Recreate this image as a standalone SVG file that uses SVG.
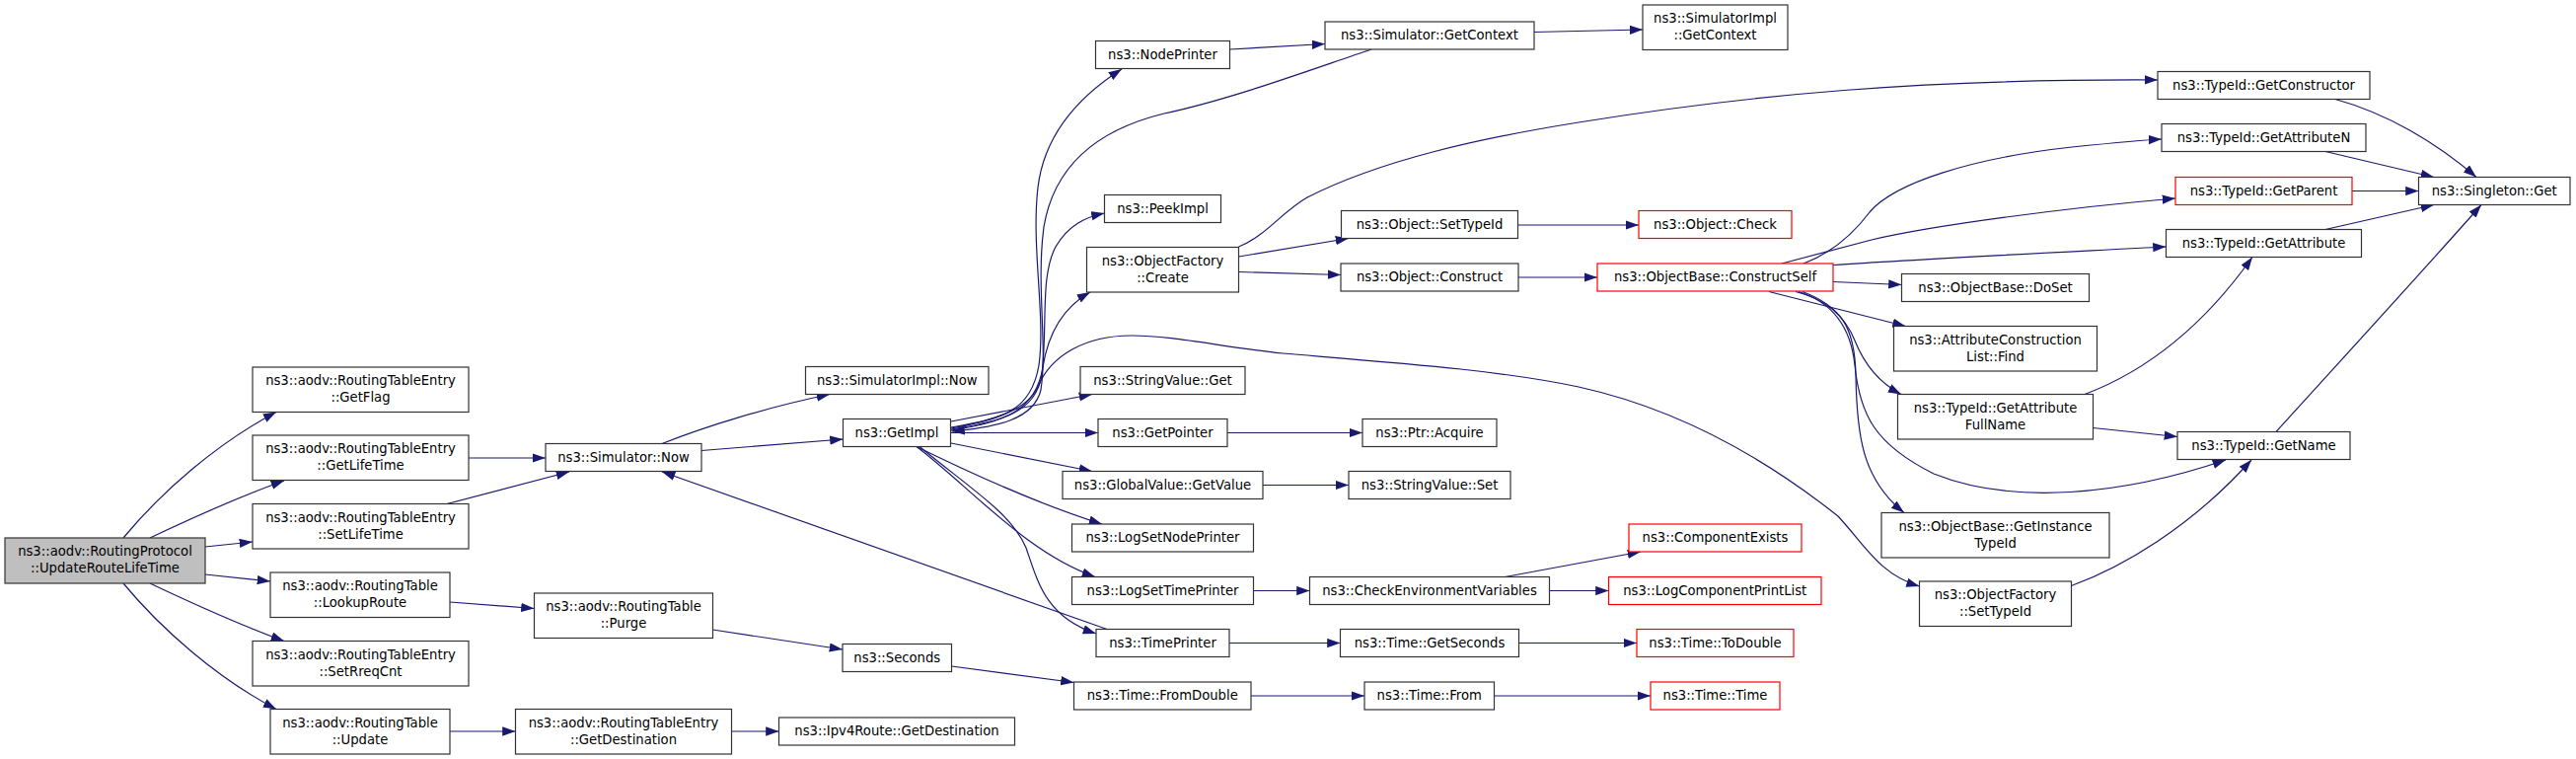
<svg xmlns="http://www.w3.org/2000/svg" width="2611" height="769" viewBox="0 0 2611 769">
<style>
.node rect{fill:#ffffff;stroke:#333333;stroke-width:1.2}
.node.red rect{stroke:#ff0000}
.node.root rect{fill:#bfbfbf}
.node text{font-family:"DejaVu Sans","Liberation Sans",sans-serif;font-size:13.2px;text-anchor:middle;fill:#000}
#connectors path{fill:none;stroke:#191970;stroke-width:1.2;marker-end:url(#a)}
</style>
<defs>
<marker id="a" markerUnits="userSpaceOnUse" markerWidth="14" markerHeight="10" viewBox="0 0 14 10" refX="13.3" refY="4.67" orient="auto"><path d="M0,0 L13.3,4.67 L0,9.33 z" fill="#191970" stroke="none"/></marker>
</defs>
<rect width="2611" height="769" fill="#ffffff"/>
<g id="connectors">
<path d="M125,545 C163,499 220,449 280,417.5"/>
<path d="M152,545 C190,527 240,504 288,487"/>
<path d="M208,554 L256,549"/>
<path d="M208,582 L274,589"/>
<path d="M152,591 C190,609 240,632 288,649.5"/>
<path d="M125,591 C163,637 220,687 280,718.5"/>
<path d="M475,464 L553,464"/>
<path d="M453,510.5 L577,478"/>
<path d="M456,610 L541.5,616.5"/>
<path d="M456,741 L522.5,741"/>
<path d="M722.5,638 L854,658"/>
<path d="M741.5,741 L789.5,741"/>
<path d="M671,449.5 C715,432 780,412 841,399.5"/>
<path d="M711,456.5 L854.5,445"/>
<path d="M1122,637.5 L671,478"/>
<path d="M964.5,675 L1088.5,691.5"/>
<path d="M964,427 L1107,399.5"/>
<path d="M964,438.5 L1113,438.5"/>
<path d="M964,449 L1107,477.5"/>
<path d="M929,452.5 C985,480 1050,510 1117,531"/>
<path d="M929,452.5 C985,495 1040,560 1110,584.5"/>
<path d="M932,452.5 C985,496 1025,520 1040,555 C1052,590 1060,625 1111,642"/>
<path d="M964,433 C1015,424 1045,418 1053,370 C1060,320 1045,250 1052,190 C1058,140 1090,100 1137,70"/>
<path d="M1390,50 C1330,70 1250,100 1180,115 C1110,132 1068,170 1058,230 C1050,290 1062,350 1055,395 C1048,425 1010,433 964.5,437"/>
<path d="M964,435 C1015,427 1050,418 1056,380 C1062,330 1054,280 1070,250 C1083,228 1100,220 1119.5,216"/>
<path d="M964,436 C1018,428 1050,416 1057,372 C1062,340 1075,313 1105,296"/>
<path d="M964,434 C1010,426 1042,414 1052,392 C1065,360 1100,340 1147,340 C1190,340 1240,352 1300,358 C1420,368 1520,375 1600,392 C1700,414 1790,465 1863,523 C1890,552 1905,582 1945.5,594"/>
<path d="M1255.5,250 C1282,240 1300,214 1325,200 C1400,162 1500,140 1600,124 C1780,95 1950,80 2187,81"/>
<path d="M1246.5,50 L1343,44.5"/>
<path d="M1255.5,260 L1367,241.5"/>
<path d="M1255.5,275.5 L1359,278.5"/>
<path d="M1554.5,32.5 L1665,30"/>
<path d="M1538,228 L1661,228"/>
<path d="M1539,281 L1619,281"/>
<path d="M1244,438.5 L1381,438.5"/>
<path d="M1280,491.5 L1367,491.5"/>
<path d="M1270.5,598.5 L1327.5,598.5"/>
<path d="M1246,651.5 L1358.5,651.5"/>
<path d="M1268,705 L1383,705"/>
<path d="M1525.5,584.5 L1663,559"/>
<path d="M1570.5,598.5 L1630.5,598.5"/>
<path d="M1539.5,651.5 L1659,651.5"/>
<path d="M1514.5,705 L1673,705"/>
<path d="M1828,267 C1860,255 1880,235 1895,215 C1920,185 2000,160 2100,149 C2140,145 2170,142 2191,141"/>
<path d="M1806,267 C1840,258 1870,250 1897,243 C1960,228 2100,210 2205,201"/>
<path d="M1858,268.5 C1950,262 2100,255 2195.5,250"/>
<path d="M1858,285.5 L1927.5,288.5"/>
<path d="M1793,295.5 L1931.5,330.5"/>
<path d="M1820,295.5 C1850,303 1870,320 1880,345 C1890,370 1905,388 1927,399.5"/>
<path d="M1823,295.5 C1857,306 1876,332 1880,370 C1885,420 1900,450 1960,480 C2040,512 2150,502 2256,466"/>
<path d="M1827,295.5 C1865,310 1880,330 1881,380 C1882,440 1887,485 1930,519.5"/>
<path d="M2367,100.5 C2420,115 2470,145 2510,179.5"/>
<path d="M2357,153.5 L2467,179.5"/>
<path d="M2384,193.5 L2451.5,193.5"/>
<path d="M2357,232.5 L2467,207.5"/>
<path d="M2307,437.5 C2350,390 2460,270 2515,207.5"/>
<path d="M2113,399.5 C2170,378 2230,335 2283,260.5"/>
<path d="M2121.5,433.5 L2207,442.5"/>
<path d="M2099.5,593.5 C2150,575 2220,535 2282,466"/>
</g>
<g id="n1" class="node root"><rect x="5" y="545" width="203" height="46"/><text x="106.5" y="563">ns3::aodv::RoutingProtocol</text><text x="106.5" y="580">::UpdateRouteLifeTime</text></g>
<g id="n2" class="node"><rect x="256" y="372" width="219" height="45.5"/><text x="365.5" y="390">ns3::aodv::RoutingTableEntry</text><text x="365.5" y="407">::GetFlag</text></g>
<g id="n3" class="node"><rect x="256" y="441" width="219" height="45.5"/><text x="365.5" y="459">ns3::aodv::RoutingTableEntry</text><text x="365.5" y="476">::GetLifeTime</text></g>
<g id="n4" class="node"><rect x="256" y="510.5" width="219" height="45.5"/><text x="365.5" y="528.5">ns3::aodv::RoutingTableEntry</text><text x="365.5" y="545.5">::SetLifeTime</text></g>
<g id="n5" class="node"><rect x="274" y="580" width="182" height="45.5"/><text x="365" y="598">ns3::aodv::RoutingTable</text><text x="365" y="615">::LookupRoute</text></g>
<g id="n6" class="node"><rect x="256" y="649.5" width="219" height="45.5"/><text x="365.5" y="667.5">ns3::aodv::RoutingTableEntry</text><text x="365.5" y="684.5">::SetRreqCnt</text></g>
<g id="n7" class="node"><rect x="274" y="718.5" width="182" height="45.5"/><text x="365" y="736.5">ns3::aodv::RoutingTable</text><text x="365" y="753.5">::Update</text></g>
<g id="n8" class="node"><rect x="553" y="449.5" width="158" height="28"/><text x="632" y="467.5">ns3::Simulator::Now</text></g>
<g id="n9" class="node"><rect x="541.5" y="601" width="181" height="45.5"/><text x="632" y="619">ns3::aodv::RoutingTable</text><text x="632" y="636">::Purge</text></g>
<g id="n10" class="node"><rect x="522.5" y="718.5" width="219" height="45.5"/><text x="632" y="736.5">ns3::aodv::RoutingTableEntry</text><text x="632" y="753.5">::GetDestination</text></g>
<g id="n11" class="node"><rect x="816.5" y="371.5" width="185.5" height="28"/><text x="909.25" y="389.5">ns3::SimulatorImpl::Now</text></g>
<g id="n12" class="node"><rect x="854.5" y="424.5" width="109" height="28"/><text x="909" y="442.5">ns3::GetImpl</text></g>
<g id="n13" class="node"><rect x="854" y="652.5" width="110.5" height="28"/><text x="909.25" y="670.5">ns3::Seconds</text></g>
<g id="n14" class="node"><rect x="789.5" y="727" width="239" height="28"/><text x="909" y="745">ns3::Ipv4Route::GetDestination</text></g>
<g id="n15" class="node"><rect x="1110.5" y="41.5" width="136" height="28"/><text x="1178.5" y="59.5">ns3::NodePrinter</text></g>
<g id="n16" class="node"><rect x="1119.5" y="197.5" width="118" height="28"/><text x="1178.5" y="215.5">ns3::PeekImpl</text></g>
<g id="n17" class="node"><rect x="1101.5" y="250.5" width="154" height="45.5"/><text x="1178.5" y="268.5">ns3::ObjectFactory</text><text x="1178.5" y="285.5">::Create</text></g>
<g id="n18" class="node"><rect x="1095" y="371.5" width="167" height="28"/><text x="1178.5" y="389.5">ns3::StringValue::Get</text></g>
<g id="n19" class="node"><rect x="1113" y="424.5" width="131" height="28"/><text x="1178.5" y="442.5">ns3::GetPointer</text></g>
<g id="n20" class="node"><rect x="1077" y="477.5" width="203" height="28"/><text x="1178.5" y="495.5">ns3::GlobalValue::GetValue</text></g>
<g id="n21" class="node"><rect x="1086.5" y="531" width="184" height="28"/><text x="1178.5" y="549">ns3::LogSetNodePrinter</text></g>
<g id="n22" class="node"><rect x="1086.5" y="584.5" width="184" height="28"/><text x="1178.5" y="602.5">ns3::LogSetTimePrinter</text></g>
<g id="n23" class="node"><rect x="1111" y="637.5" width="135" height="28"/><text x="1178.5" y="655.5">ns3::TimePrinter</text></g>
<g id="n24" class="node"><rect x="1088.5" y="691" width="179.5" height="28"/><text x="1178.25" y="709">ns3::Time::FromDouble</text></g>
<g id="n25" class="node"><rect x="1343" y="22" width="212" height="28"/><text x="1449" y="40">ns3::Simulator::GetContext</text></g>
<g id="n26" class="node"><rect x="1359.5" y="213.5" width="179" height="28"/><text x="1449" y="231.5">ns3::Object::SetTypeId</text></g>
<g id="n27" class="node"><rect x="1359" y="267" width="180" height="28"/><text x="1449" y="285">ns3::Object::Construct</text></g>
<g id="n28" class="node"><rect x="1381" y="424.5" width="136" height="28"/><text x="1449" y="442.5">ns3::Ptr::Acquire</text></g>
<g id="n29" class="node"><rect x="1367" y="477.5" width="164" height="28"/><text x="1449" y="495.5">ns3::StringValue::Set</text></g>
<g id="n30" class="node"><rect x="1327.5" y="584.5" width="243" height="28"/><text x="1449" y="602.5">ns3::CheckEnvironmentVariables</text></g>
<g id="n31" class="node"><rect x="1358.5" y="637.5" width="181" height="28"/><text x="1449" y="655.5">ns3::Time::GetSeconds</text></g>
<g id="n32" class="node"><rect x="1383" y="691" width="131.5" height="28"/><text x="1448.75" y="709">ns3::Time::From</text></g>
<g id="n33" class="node"><rect x="1665" y="5" width="147" height="45.5"/><text x="1738.5" y="23">ns3::SimulatorImpl</text><text x="1738.5" y="40">::GetContext</text></g>
<g id="n34" class="node red"><rect x="1661" y="213.5" width="155" height="28"/><text x="1738.5" y="231.5">ns3::Object::Check</text></g>
<g id="n35" class="node red"><rect x="1619" y="267" width="239" height="28"/><text x="1738.5" y="285">ns3::ObjectBase::ConstructSelf</text></g>
<g id="n36" class="node red"><rect x="1651" y="531" width="175" height="28"/><text x="1738.5" y="549">ns3::ComponentExists</text></g>
<g id="n37" class="node red"><rect x="1630.5" y="584.5" width="215.5" height="28"/><text x="1738.25" y="602.5">ns3::LogComponentPrintList</text></g>
<g id="n38" class="node red"><rect x="1659" y="637.5" width="159" height="28"/><text x="1738.5" y="655.5">ns3::Time::ToDouble</text></g>
<g id="n39" class="node red"><rect x="1673" y="691" width="131" height="28"/><text x="1738.5" y="709">ns3::Time::Time</text></g>
<g id="n40" class="node"><rect x="1927.5" y="277.5" width="190" height="28"/><text x="2022.5" y="295.5">ns3::ObjectBase::DoSet</text></g>
<g id="n41" class="node"><rect x="1919.5" y="330.5" width="206" height="45.5"/><text x="2022.5" y="348.5">ns3::AttributeConstruction</text><text x="2022.5" y="365.5">List::Find</text></g>
<g id="n42" class="node"><rect x="1923.5" y="399.5" width="198" height="45.5"/><text x="2022.5" y="417.5">ns3::TypeId::GetAttribute</text><text x="2022.5" y="434.5">FullName</text></g>
<g id="n43" class="node"><rect x="1907" y="519.5" width="231" height="45.5"/><text x="2022.5" y="537.5">ns3::ObjectBase::GetInstance</text><text x="2022.5" y="554.5">TypeId</text></g>
<g id="n44" class="node"><rect x="1945.5" y="589" width="154" height="45.5"/><text x="2022.5" y="607">ns3::ObjectFactory</text><text x="2022.5" y="624">::SetTypeId</text></g>
<g id="n45" class="node"><rect x="2187" y="72.5" width="215" height="28"/><text x="2294.5" y="90.5">ns3::TypeId::GetConstructor</text></g>
<g id="n46" class="node"><rect x="2191" y="125.5" width="207" height="28"/><text x="2294.5" y="143.5">ns3::TypeId::GetAttributeN</text></g>
<g id="n47" class="node red"><rect x="2205" y="179.5" width="179" height="28"/><text x="2294.5" y="197.5">ns3::TypeId::GetParent</text></g>
<g id="n48" class="node"><rect x="2195.5" y="232.5" width="198" height="28"/><text x="2294.5" y="250.5">ns3::TypeId::GetAttribute</text></g>
<g id="n49" class="node"><rect x="2451.5" y="179.5" width="153.5" height="28"/><text x="2528.25" y="197.5">ns3::Singleton::Get</text></g>
<g id="n50" class="node"><rect x="2207" y="437.5" width="175" height="28"/><text x="2294.5" y="455.5">ns3::TypeId::GetName</text></g>
</svg>
